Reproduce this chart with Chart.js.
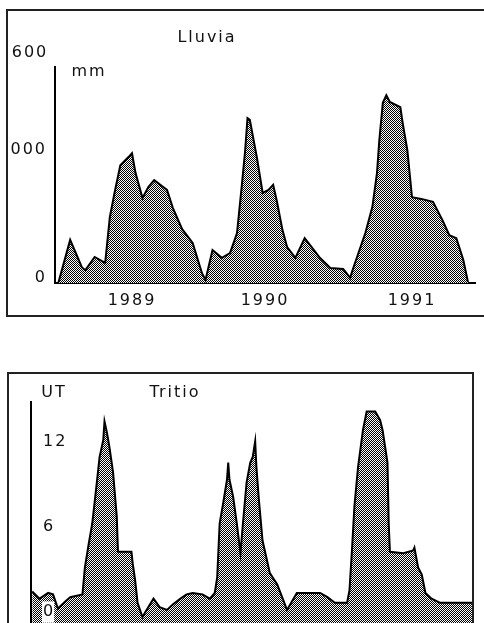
<!DOCTYPE html>
<html>
<head>
<meta charset="utf-8">
<script src="https://cdn.jsdelivr.net/npm/chart.js@4/dist/chart.umd.min.js"></script>
<style>
   html, body { margin: 0; padding: 0; background: #fff; overflow: hidden; }
   body { width: 484px; height: 623px; position: relative; }
   .box { position: absolute; border: 2px solid #222; pointer-events: none; }
   .wrap { position: absolute; }
</style>
</head>
<body>
<div class="box" style="left:6px; top:9px; width:490px; height:304px;"></div>
<div class="box" style="left:7px; top:372px; width:463px; height:270px;"></div>
<div class="wrap" style="left:0; top:0; width:484px; height:320px;"><canvas id="lluviaChart"></canvas></div>
<div class="wrap" style="left:0; top:373px; width:484px; height:250px;"><canvas id="tritioChart"></canvas></div>
<script>
// Lluvia (mm), x in months from start of the record
var lluviaMes = [0.3,1.3,2.3,2.6,3.4,4.3,4.7,5.1,5.6,6.3,6.6,6.9,7.5,8.0,8.5,9.6,10.1,10.9,11.8,12.6,
   12.9,13.5,14.3,15.0,15.6,16.0,16.3,16.5,16.7,17.3,17.8,18.3,18.7,19.0,19.5,19.9,20.6,21.4,22.0,22.7,
   23.6,24.7,25.3,25.5,26.6,27.2,27.6,27.8,28.1,28.4,28.7,29.6,29.8,30.2,30.6,31.4,32.4,33.2,33.8,34.4,
   35.0,35.4];
var lluviaMm = [2,101,37,30,61,47,154,211,276,295,304,258,199,225,241,218,176,126,94,23,
   7,77,59,70,117,225,311,386,382,295,211,218,230,194,124,84,59,105,84,59,
   35,33,12,30,117,178,258,335,422,440,424,412,375,311,201,197,190,148,112,105,
   54,2];
var lluviaAnios = ['1989', '1990', '1991'];
var lluviaAniosPos = [6.6, 18.0, 30.6];
var lluviaTicks = [0, 300];
var lluviaTickLabels = ['0', '000'];

// Tritio (UT)
var tritioMes = [0.1,0.7,1.4,1.8,2.2,2.8,3.2,4.2,4.4,4.7,
   5.0,5.4,5.6,5.9,6.0,6.2,6.4,6.7,7.0,7.1,
   8.2,8.3,8.5,8.7,9.1,9.3,10.0,10.5,11.1,11.6,
   12.2,12.7,13.2,14.0,14.6,15.0,15.2,15.4,15.7,16.0,
   16.1,16.2,16.5,16.8,17.1,17.3,17.6,17.9,18.1,18.3,
   18.4,18.6,18.9,19.5,20.1,20.5,20.9,21.3,21.7,23.6,
   24.2,24.8,25.8,26.0,26.2,26.4,26.7,27.1,27.4,28.1,
   28.5,28.7,29.1,29.2,29.3,30.4,31.2,31.3,31.6,31.9,
   32.2,32.7,33.4,36.0];
var tritioUT = [1.8,1.3,1.7,1.6,0.6,1.1,1.4,1.6,3.5,5.1,
   6.6,9.7,11.3,12.5,13.8,13.0,12.0,10.2,7.1,4.6,
   4.6,3.8,2.6,1.0,0.0,0.3,1.3,0.7,0.5,0.9,
   1.3,1.6,1.7,1.6,1.3,1.7,2.8,6.6,8.1,9.7,
   10.9,9.7,8.5,6.6,4.5,6.6,9.5,10.9,11.3,12.4,
   10.6,8.3,5.4,3.1,2.3,1.4,0.5,1.1,1.7,1.7,
   1.4,1.0,1.0,1.9,4.7,7.8,10.6,13.2,14.5,14.5,
   13.9,13.2,10.9,6.6,4.6,4.5,4.7,4.9,3.5,3.0,
   1.7,1.3,1.0,1.0];
var tritioTicks = [0, 6, 12];
var tritioTickLabels = ['0', '6', '12'];

var FONT = 'DejaVu Sans';

function makePattern() {
   var pc = document.createElement('canvas');
   pc.width = 2; pc.height = 2;
   var p = pc.getContext('2d');
   p.fillStyle = '#fff';
   p.fillRect(0, 0, 2, 2);
   p.fillStyle = '#000';
   p.fillRect(0, 0, 1, 1);
   p.fillRect(1, 1, 1, 1);
   return p.createPattern(pc, 'repeat');
}

function points(xs, ys) {
   return xs.map(function(x, i) { return {x: x, y: ys[i]}; });
}

// no label padding around the plot area, positions are set by layout padding
function noPad(scale) {
   scale.paddingTop = 0;
   scale.paddingBottom = 0;
   scale.paddingLeft = 0;
   scale.paddingRight = 0;
}

// free text on the panel (titles, units)
var textPlugin = {
   id: 'panelText',
   beforeDraw: function(chart) {
      chart.ctx.letterSpacing = '2px';
   },
   afterDraw: function(chart, args, opts) {
      var ctx = chart.ctx;
      ctx.save();
      ctx.letterSpacing = '2px';
      ctx.fillStyle = '#111';
      ctx.textAlign = 'center';
      ctx.textBaseline = 'middle';
      (opts.items || []).forEach(function(t) {
         ctx.font = (t.size || 16) + 'px "' + FONT + '"';
         ctx.fillText(t.text, t.x, t.y);
      });
      ctx.restore();
   }
};

function createLluviaChart() {
   var ctx = document.getElementById('lluviaChart').getContext('2d');
   return new Chart(ctx, {
      type: 'line',
      data: {
         datasets: [{
            label: 'Lluvia',
            data: points(lluviaMes, lluviaMm),
            borderColor: '#000',
            borderWidth: 2,
            backgroundColor: makePattern(),
            fill: 'origin',
            pointRadius: 0,
            tension: 0
         }]
      },
      options: {
         responsive: true,
         maintainAspectRatio: false,
         animation: false,
         layout: { padding: { left: 0, right: 9, top: 67, bottom: 0 } },
         plugins: {
            legend: { display: false },
            tooltip: { enabled: false },
            panelText: {
               items: [
                  { text: 'Lluvia', x: 207, y: 38 },
                  { text: '600', x: 30, y: 53 },
                  { text: 'mm', x: 89, y: 72 }
               ]
            }
         },
         scales: {
            x: {
               type: 'linear',
               min: 0,
               max: 36,
               grid: { display: false, drawTicks: false },
               border: { display: true, color: '#000', width: 2 },
               afterBuildTicks: function(scale) {
                  scale.ticks = lluviaAniosPos.map(function(v) { return {value: v}; });
               },
               afterFit: function(scale) { scale.height = 37; noPad(scale); },
               ticks: {
                  color: '#111',
                  padding: 8,
                  maxRotation: 0,
                  font: { family: FONT, size: 16 },
                  callback: function(v, i) { return lluviaAnios[i]; }
               }
            },
            y: {
               min: 0,
               max: 506,
               grid: { display: false, drawTicks: false },
               border: { display: true, color: '#000', width: 2 },
               afterBuildTicks: function(scale) {
                  scale.ticks = lluviaTicks.map(function(v) { return {value: v}; });
               },
               afterFit: function(scale) { scale.width = 55; noPad(scale); },
               ticks: {
                  color: '#111',
                  padding: 8,
                  labelOffset: -5,
                  font: { family: FONT, size: 16 },
                  callback: function(v, i) { return lluviaTickLabels[i]; }
               }
            }
         }
      },
      plugins: [textPlugin]
   });
}

function createTritioChart() {
   var ctx = document.getElementById('tritioChart').getContext('2d');
   return new Chart(ctx, {
      type: 'line',
      data: {
         datasets: [{
            label: 'Tritio',
            data: points(tritioMes, tritioUT),
            borderColor: '#000',
            borderWidth: 2,
            backgroundColor: makePattern(),
            fill: 'start',
            pointRadius: 0,
            tension: 0
         }]
      },
      options: {
         responsive: true,
         maintainAspectRatio: false,
         animation: false,
         layout: { padding: { left: 0, right: 12, top: 29, bottom: 0 } },
         plugins: {
            legend: { display: false },
            tooltip: { enabled: false },
            panelText: {
               items: [
                  { text: 'UT', x: 54, y: 20 },
                  { text: 'Tritio', x: 175, y: 20 }
               ]
            }
         },
         scales: {
            x: {
               type: 'linear',
               display: false,
               min: 0,
               max: 36
            },
            y: {
               min: -0.42,
               max: 15.17,
               grid: { display: false, drawTicks: false },
               border: { display: true, color: '#000', width: 2 },
               afterBuildTicks: function(scale) {
                  scale.ticks = tritioTicks.map(function(v) { return {value: v}; });
               },
               afterFit: function(scale) { scale.width = 31; noPad(scale); },
               ticks: {
                  z: 1,
                  mirror: true,
                  color: '#111',
                  padding: 12,
                  labelOffset: -5,
                  showLabelBackdrop: true,
                  backdropColor: '#fff',
                  backdropPadding: 1,
                  font: { family: FONT, size: 16 },
                  callback: function(v, i) { return tritioTickLabels[i]; }
               }
            }
         }
      },
      plugins: [textPlugin]
   });
}

window.addEventListener('load', function() {
   createLluviaChart();
   createTritioChart();
});
</script>
</body>
</html>
